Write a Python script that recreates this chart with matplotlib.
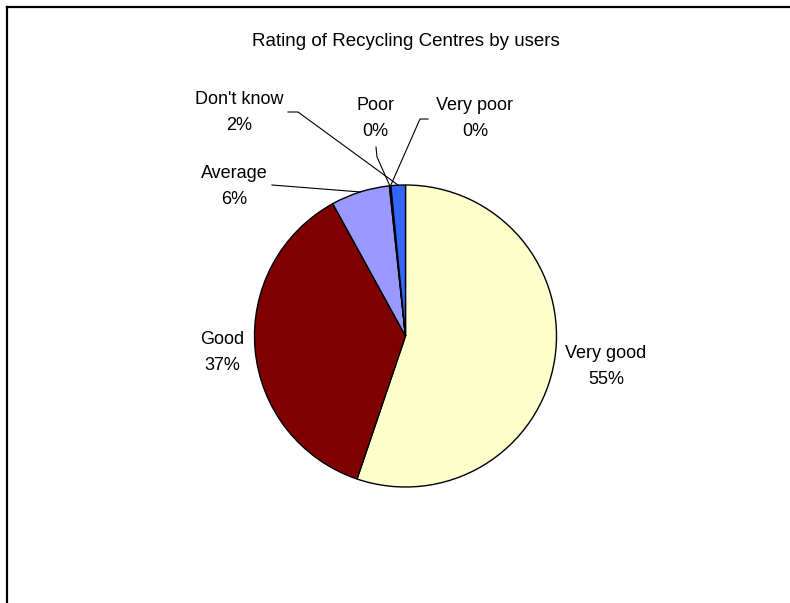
import numpy as np
import matplotlib
matplotlib.use('Agg')
import matplotlib.pyplot as plt
from matplotlib.lines import Line2D

# ── Data ─────────────────────────────────────────────────────────────────────
categories = ['Very good', 'Good', 'Average', 'Poor', 'Very poor', "Don't know"]
shares     = [55.2, 36.8, 6.3, 0.1, 0.05, 1.55]        # percent of users
colours    = ['#FFFFCC', '#800000', '#9999FF', '#CCFFFF', '#660066', '#3366FF']
title      = 'Rating of Recycling Centres by users'

plt.rcParams['font.family'] = ['Liberation Sans', 'DejaVu Sans']

W, H = 790, 603
fig = plt.figure(figsize=(W / 100, H / 100), dpi=100)
ax = fig.add_axes([0, 0, 1, 1])

# pixel layout, origin top-left; converted to axes units below
def px(x, y):
    return x, H - y

cx, cy = px(405.5, 336)
radius = 151

wedges, _ = ax.pie(shares, colors=colours, startangle=90, counterclock=False,
                   center=(cx, cy), radius=radius,
                   wedgeprops=dict(edgecolor='black', linewidth=1.0))
ax.set_xlim(0, W)
ax.set_ylim(0, H)
ax.set_aspect('equal')
ax.axis('off')

# ── Labels: name / rounded percent, plus optional leader line ────────────────
# (name centre x, name centre y, leader start points or None)
label_layout = {
    'Very good':  (606, 353, None),
    'Good':       (222, 339, None),
    'Average':    (234, 173, [(272, 185)]),
    'Poor':       (375.5, 106, [(376, 147), (377, 157)]),
    'Very poor':  (475, 106, [(428, 119), (420, 119)]),
    "Don't know": (239.5, 100, [(288, 112), (298, 112)]),
}
line_gap = 26
fs = 13

for w, name, val in zip(wedges, categories, shares):
    x, y, leader = label_layout[name]
    ax.text(*px(x, y), name, ha='center', va='center', fontsize=fs)
    ax.text(*px(x, y + line_gap), f'{val:.0f}%', ha='center', va='center',
            fontsize=fs)
    if leader:
        mid = np.radians((w.theta1 + w.theta2) / 2)
        ex, ey = cx + radius * np.cos(mid), cy + radius * np.sin(mid)
        pts = [px(*p) for p in leader] + [(ex, ey)]
        xs, ys = zip(*pts)
        ax.plot(xs, ys, color='black', lw=0.8, solid_joinstyle='miter')

ax.text(*px(406, 42), title, ha='center', va='center', fontsize=13.5)

# chart frame (top and left edges visible)
fx0, fy0 = 7 / W, 1 - 7 / H
fig.add_artist(Line2D([fx0, 1], [fy0, fy0], color='black', lw=1.6))
fig.add_artist(Line2D([fx0, fx0], [fy0, 0], color='black', lw=1.6))

fig.savefig('out.png', dpi=100, facecolor='white')
